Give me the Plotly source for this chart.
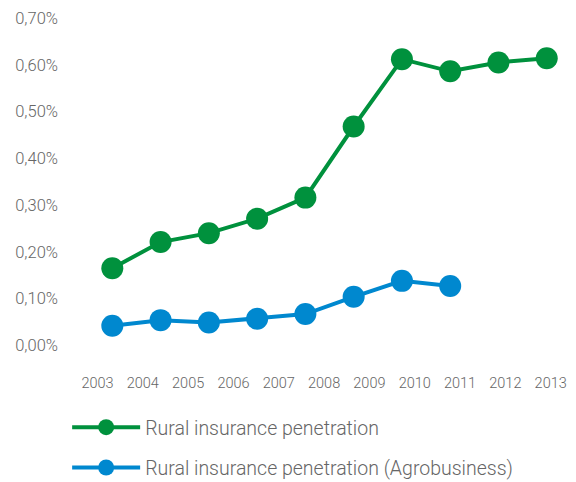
import plotly.graph_objects as go

# Rural insurance penetration (share of GDP), by year
years_rural = [2003, 2004, 2005, 2006, 2007, 2008, 2009, 2010, 2011, 2012]
rural = [0.00165, 0.00221, 0.00240, 0.00271, 0.00316, 0.00468,
         0.00612, 0.00586, 0.00605, 0.00614]

years_agro = [2003, 2004, 2005, 2006, 2007, 2008, 2009, 2010]
agro = [0.00042, 0.00054, 0.00049, 0.00057, 0.00067, 0.00104,
        0.00138, 0.00127]

# Year labels printed along the bottom
year_labels = ["2003", "2004", "2005", "2006", "2007", "2008",
               "2009", "2010", "2011", "2012", "2013"]

GREEN = "#00913d"
BLUE = "#0088cf"
TEXT = "#666666"
FONT = "Roboto"

fig = go.Figure()
fig.add_trace(go.Scatter(
    x=years_rural, y=rural, mode="lines+markers",
    name="Rural insurance penetration", legendgroup="a",
    line=dict(color=GREEN, width=4),
    marker=dict(color=GREEN, size=22),
    cliponaxis=False,
))
fig.add_trace(go.Scatter(
    x=years_agro, y=agro, mode="lines+markers",
    name="Rural insurance penetration (Agrobusiness)", legendgroup="b",
    line=dict(color=BLUE, width=4),
    marker=dict(color=BLUE, size=22),
    cliponaxis=False,
))

label_pos = [int(v) for v in year_labels]
# empty trace so the year-label axis gets drawn
fig.add_trace(go.Scatter(x=[], y=[], xaxis="x2", yaxis="y",
                         showlegend=False, hoverinfo="skip"))

H = 482
TOP = 18.3
paper_h = H - TOP


def paper_y(px):
    return (H - px) / paper_h


fig.update_layout(
    width=576, height=H,
    margin=dict(l=75, r=10, t=TOP, b=0, autoexpand=False),
    paper_bgcolor="white", plot_bgcolor="white",
    separators=",.",
    font=dict(family=FONT, color=TEXT),
    showlegend=True,
    legend=dict(
        x=-0.016, y=paper_y(408), xanchor="left", yanchor="top",
        font=dict(size=19.5, family=FONT, color=TEXT, weight=300),
        traceorder="grouped", tracegroupgap=12,
        itemwidth=68, bgcolor="rgba(0,0,0,0)",
    ),
    xaxis=dict(
        type="linear", range=[2002.227, 2012.399],
        showticklabels=False, showgrid=False, zeroline=False,
        showline=False, ticks="",
    ),
    xaxis2=dict(
        type="linear", overlaying="x", anchor="y", side="bottom",
        range=[2002.5035, 2013.338],
        tickmode="array", tickvals=label_pos, ticktext=year_labels,
        tickfont=dict(size=14.5, family=FONT, color=TEXT, weight=300),
        ticks="outside", ticklen=24, tickcolor="rgba(0,0,0,0)",
        tickangle=0, automargin=False,
        showgrid=False, zeroline=False, showline=False,
    ),
    yaxis=dict(
        type="linear", range=[0, 0.007], dtick=0.001, tickformat=".2%",
        domain=[paper_y(345.5), 1],
        tickfont=dict(size=16.5, family=FONT, color=TEXT, weight=300),
        showgrid=False, zeroline=False, showline=False,
        ticks="", ticklabelstandoff=16, automargin=False,
    ),
)

fig.write_html("out.html")
